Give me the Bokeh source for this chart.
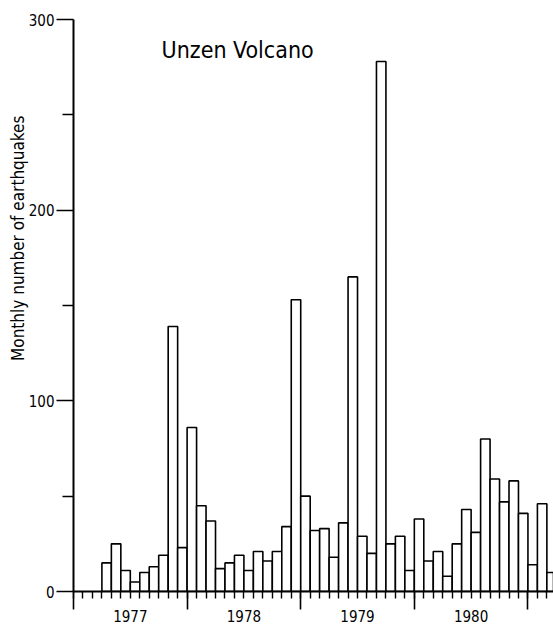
from bokeh.plotting import figure
from bokeh.models import FixedTicker, Label, ColumnDataSource, Range1d, LinearAxis, Title
from bokeh.embed import file_html
from bokeh.resources import INLINE

# months counted from January 1977 (index 0)
months = list(range(3, 51))
counts = [15, 25, 11, 5, 10, 13, 19, 139, 23, 86, 45, 37,
          12, 15, 19, 11, 21, 16, 21, 34, 153, 50, 32, 33,
          18, 36, 165, 29, 20, 278, 25, 29, 11, 38, 16, 21,
          8, 25, 43, 31, 80, 59, 47, 58, 41, 14, 46, 10]
year_bounds = [0, 12, 24, 36, 48]
year_mids = [6, 18, 30, 42]
year_labels = ["1977", "1978", "1979", "1980"]
y_major = [0, 100, 200, 300]
y_minor = [50, 150, 250]

FONT = "DejaVu Sans Condensed"

src = ColumnDataSource(dict(x=[m + 0.5 for m in months], top=counts))

p = figure(width=553, height=627,
           x_range=Range1d(0, 50.7), y_range=Range1d(0, 300),
           output_backend="svg", toolbar_location=None,
           min_border_left=73, min_border_top=19, min_border_right=0,
           min_border_bottom=36)
p.outline_line_color = None
p.xgrid.visible = False
p.ygrid.visible = False
p.background_fill_color = "white"
p.border_fill_color = "white"

p.vbar(x="x", top="top", bottom=0, width=1, source=src,
       fill_color="white", line_color="black", line_width=1.6)

# y axis
ya = p.yaxis[0]
ya.ticker = FixedTicker(ticks=y_major, minor_ticks=y_minor)
ya.major_tick_out = 17
ya.major_tick_in = 0
ya.minor_tick_out = 11
ya.minor_tick_in = 0
ya.axis_line_width = 2
ya.major_tick_line_width = 1.6
ya.minor_tick_line_width = 1.6
ya.major_label_standoff = 2
ya.major_label_text_font = FONT
ya.major_label_text_font_size = "15px"
ya.major_label_text_color = "black"

# y axis title (left-side title, placed higher as in the original)
p.add_layout(Title(text="Monthly number of earthquakes", align="right",
                   offset=96, standoff=-4, text_font=FONT,
                   text_font_size="17px", text_font_style="normal",
                   text_color="black"), "left")

# x axis: long ticks at year boundaries, short ticks every month
xa = p.xaxis[0]
xa.ticker = FixedTicker(ticks=year_bounds, minor_ticks=list(range(0, 51)))
xa.major_tick_out = 18
xa.major_tick_in = 0
xa.minor_tick_out = 7
xa.minor_tick_in = 0
xa.axis_line_width = 2
xa.major_tick_line_width = 1.6
xa.minor_tick_line_width = 1.4
xa.major_label_overrides = {b: "" for b in year_bounds}
xa.major_label_text_font_size = "0px"
xa.major_label_standoff = 0

# second x axis below: year labels centred in each year
xb = LinearAxis(ticker=FixedTicker(ticks=year_mids, minor_ticks=[]),
                axis_line_color=None,
                major_tick_out=0, major_tick_in=0,
                minor_tick_out=0, minor_tick_in=0,
                major_label_overrides={m: l for m, l in zip(year_mids, year_labels)},
                major_label_standoff=0,
                major_label_text_font=FONT,
                major_label_text_font_size="15px",
                major_label_text_color="black")
p.add_layout(xb, "below")

# chart title
p.add_layout(Label(x=9.3, y=284, text="Unzen Volcano", text_font=FONT,
                   text_font_size="23px", text_color="black",
                   text_baseline="alphabetic"))

open("out.html", "w").write(file_html(p, INLINE))
